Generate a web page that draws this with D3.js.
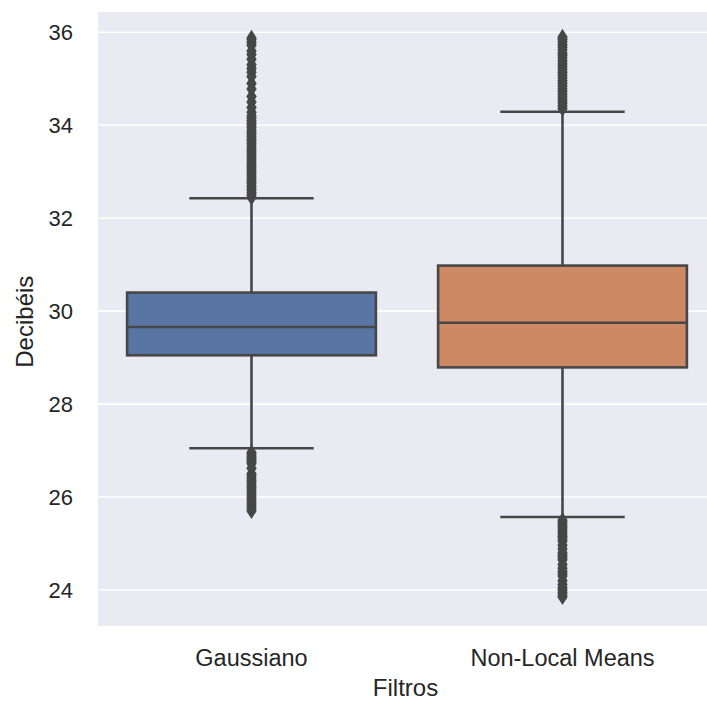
<!DOCTYPE html>
<html><head><meta charset="utf-8">
<script src="https://cdn.jsdelivr.net/npm/d3@7"></script>
<style>body{margin:0;background:#fff}svg{display:block}text{font-family:"Liberation Sans",Arial,sans-serif;fill:#262626}</style>
</head><body>
<script>
const categories = ["Gaussiano", "Non-Local Means"];
const whiskerLow  = [27.05, 25.57];
const q1          = [29.05, 28.79];
const medians     = [29.66, 29.75];
const q3          = [30.40, 30.98];
const whiskerHigh = [32.43, 34.29];
const fliersGaussiano = [
  32.45, 32.5, 32.55, 32.6, 32.65, 32.7, 32.75, 32.8, 32.85, 32.9, 32.95, 33.0,
  33.05, 33.1, 33.15, 33.2, 33.25, 33.3, 33.35, 33.4, 33.45, 33.5, 33.55, 33.6,
  33.65, 33.7, 33.75, 33.8, 33.85, 33.9, 33.95, 34.0, 34.05, 34.1, 34.15, 34.2,
  34.28, 34.38, 34.5, 34.62, 34.78, 34.9, 35.05, 35.14, 35.22, 35.3, 35.42, 35.52,
  35.6, 35.72, 35.78, 35.84, 35.88,
  26.96, 26.92, 26.88, 26.84, 26.8, 26.76, 26.72, 26.62, 26.5, 26.46, 26.4, 26.35,
  26.3, 26.25, 26.2, 26.15, 26.1, 26.05, 26.0, 25.95, 25.9, 25.85, 25.8, 25.75, 25.7
];
const fliersNLM = [
  34.36, 34.42, 34.48, 34.54, 34.6, 34.66, 34.72, 34.78, 34.84, 34.9, 34.96, 35.02,
  35.08, 35.14, 35.2, 35.26, 35.32, 35.38, 35.44, 35.5, 35.55, 35.62, 35.68, 35.74,
  35.8, 35.85, 35.9,
  25.5, 25.45, 25.4, 25.35, 25.3, 25.25, 25.2, 25.15, 25.1, 25.05, 24.96, 24.88,
  24.8, 24.75, 24.7, 24.65, 24.55, 24.47, 24.4, 24.35, 24.3, 24.2, 24.12, 24.05,
  24.0, 23.95, 23.9, 23.85
];
const fliers = [fliersGaussiano, fliersNLM];
const yTicks = [24, 26, 28, 30, 32, 34, 36];
const colors = ["#5875a4", "#cc8963"];
const xTitle = "Filtros", yTitle = "Decibéis";

const W = 707, H = 702;
const plot = {left: 98, right: 718, top: 12, bottom: 626};
const svg = d3.select("body").append("svg").attr("width", W).attr("height", H);

const y = d3.scaleLinear().domain([23.225, 36.437]).range([plot.bottom, plot.top]);
const x = d3.scaleBand().domain(categories).range([96, 718]).padding(0);

svg.append("rect").attr("x", plot.left).attr("y", plot.top)
  .attr("width", plot.right - plot.left).attr("height", plot.bottom - plot.top).attr("fill", "#eaeaf2");

svg.append("g").selectAll("line").data(yTicks).join("line")
  .attr("x1", plot.left).attr("x2", plot.right)
  .attr("y1", d => y(d)).attr("y2", d => y(d))
  .attr("stroke", "#fff").attr("stroke-width", 1.6);

const yAxis = svg.append("g").attr("transform", `translate(${plot.left},0)`)
  .call(d3.axisLeft(y).tickValues(yTicks).tickSize(0).tickPadding(25).tickFormat(d3.format("d")));
yAxis.select(".domain").remove();
yAxis.selectAll("text").attr("font-size", 22).attr("fill", "#262626");

const xAxis = svg.append("g").attr("transform", `translate(0,${plot.bottom})`)
  .call(d3.axisBottom(x).tickSize(0).tickPadding(23));
xAxis.select(".domain").remove();
xAxis.selectAll("text").attr("font-size", 23.5).attr("fill", "#262626");

const lineCol = "#474747", lw = 2.6;
const bw = x.bandwidth() * 0.8;
const g = svg.append("g");
categories.forEach((c, i) => {
  const cx = x(c) + x.bandwidth() / 2;
  g.append("line").attr("x1", cx).attr("x2", cx).attr("y1", y(q3[i])).attr("y2", y(whiskerHigh[i]))
    .attr("stroke", lineCol).attr("stroke-width", lw);
  g.append("line").attr("x1", cx).attr("x2", cx).attr("y1", y(q1[i])).attr("y2", y(whiskerLow[i]))
    .attr("stroke", lineCol).attr("stroke-width", lw);
  [whiskerHigh[i], whiskerLow[i]].forEach(v => {
    g.append("line").attr("x1", cx - bw / 4).attr("x2", cx + bw / 4).attr("y1", y(v)).attr("y2", y(v))
      .attr("stroke", lineCol).attr("stroke-width", lw);
  });
  g.append("g").selectAll("path").data(fliers[i]).join("path")
    .attr("d", d => `M${cx},${y(d) - 7}L${cx + 4.5},${y(d)}L${cx},${y(d) + 7}L${cx - 4.5},${y(d)}Z`)
    .attr("fill", lineCol).attr("stroke", lineCol).attr("stroke-width", 1.2);
  g.append("rect").attr("x", cx - bw / 2).attr("width", bw)
    .attr("y", y(q3[i])).attr("height", y(q1[i]) - y(q3[i]))
    .attr("fill", colors[i]).attr("stroke", lineCol).attr("stroke-width", lw);
  g.append("line").attr("x1", cx - bw / 2).attr("x2", cx + bw / 2)
    .attr("y1", y(medians[i])).attr("y2", y(medians[i]))
    .attr("stroke", lineCol).attr("stroke-width", lw);
});

svg.append("text").attr("x", 405.5).attr("y", 696).attr("text-anchor", "middle")
  .attr("font-size", 24).text(xTitle);
svg.append("text").attr("transform", `translate(33,${321.7}) rotate(-90)`).attr("text-anchor", "middle")
  .attr("font-size", 24).text(yTitle);
</script>
</body></html>
